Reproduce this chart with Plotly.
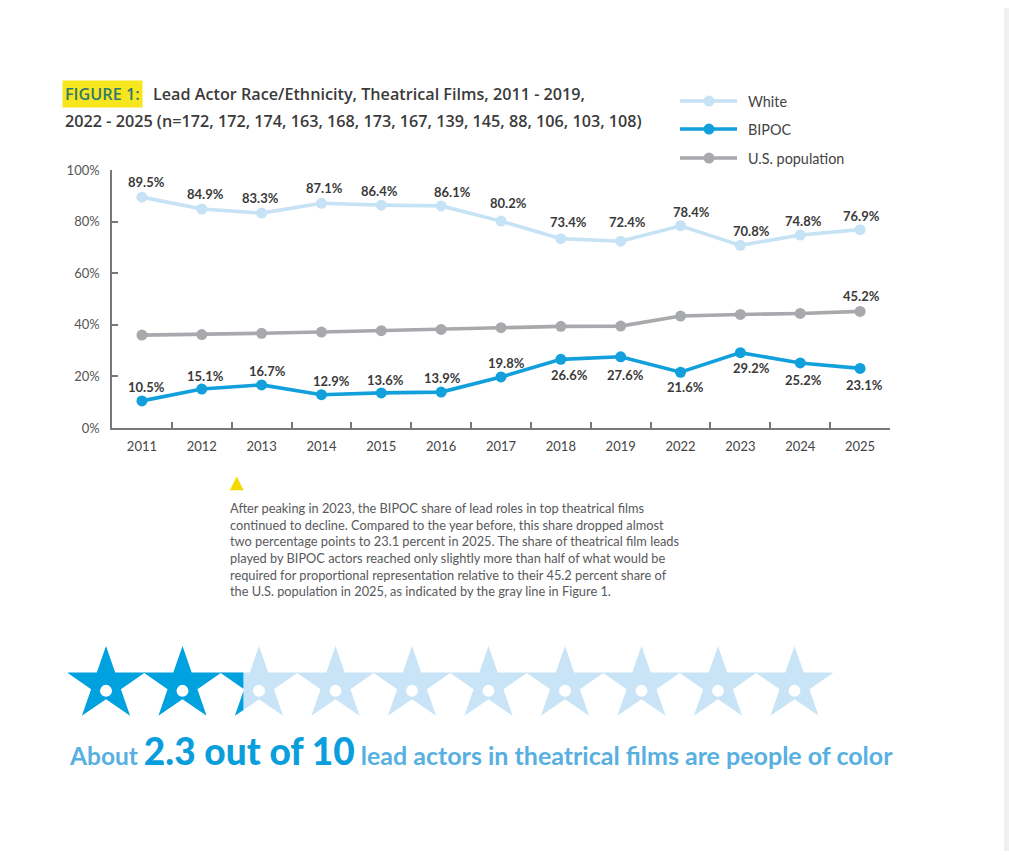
import math
import plotly.graph_objects as go

# ---------------- data ----------------
years = ["2011", "2012", "2013", "2014", "2015", "2016", "2017",
         "2018", "2019", "2022", "2023", "2024", "2025"]
white = [89.5, 84.9, 83.3, 87.1, 86.4, 86.1, 80.2, 73.4, 72.4, 78.4, 70.8, 74.8, 76.9]
bipoc = [10.5, 15.1, 16.7, 12.9, 13.6, 13.9, 19.8, 26.6, 27.6, 21.6, 29.2, 25.2, 23.1]
us_population = [36.0, 36.2, 36.7, 37.2, 37.7, 38.2, 38.9, 39.4, 39.5, 43.4, 44.0, 44.4, 45.2]
n_films = [172, 172, 174, 163, 168, 173, 167, 139, 145, 88, 106, 103, 108]
y_tick_values = [0, 20, 40, 60, 80, 100]
y_tick_labels = ["0%", "20%", "40%", "60%", "80%", "100%"]
stars_total = 10
stars_bipoc = 2.3

# ---------------- styles ----------------
W, H = 1009, 859
C_WHITE = "#c6e2f5"
C_BIPOC = "#12a0dc"
C_US = "#a7a9ac"
C_AXIS = "#77787b"
C_LABEL = "#3a3a3a"
C_TEXT = "#58595b"
C_STAR_DARK = "#00a1df"
C_STAR_LIGHT = "#c8e4f6"
FONT = "Lato, 'Open Sans', sans-serif"
TFONT = "'Open Sans', Lato, sans-serif"

# label offsets (px) relative to each point: (dx, dy_up)
white_shift = [(5, 15), (4, 15), (-1, 15), (3, 15), (-2, 14), (11, 14), (7, 18),
               (8, 17), (7, 19), (11, 14), (11, 14), (3, 14), (1, 14)]
bipoc_shift = [(5, 14), (4, 13), (6, 14), (10, 14), (4, 13), (1, 14), (5, 14),
               (9, -16), (5, -18), (5, -15), (11, -15), (3, -17), (4, -17)]

# vertical placement helper (target pixel rows -> paper coords)
VS, VOFF = 0.9817, 7.9


def px(x):
    return x / W


def py(y):
    return 1 - ((y - VOFF) / VS) / H


fig = go.Figure()

series = [
    ("U.S. population", us_population, C_US),
    ("White", white, C_WHITE),
    ("BIPOC", bipoc, C_BIPOC),
]
for name, vals, col in series:
    fig.add_trace(go.Scatter(
        x=years, y=vals, name=name, mode="lines+markers",
        line=dict(color=col, width=3.6),
        marker=dict(color=col, size=11),
        cliponaxis=False, showlegend=False, hoverinfo="skip",
    ))

LBL_FONT = dict(family=FONT, size=13, color=C_LABEL, weight=700)
annotations = []
for i, yr in enumerate(years):
    dx, dy = white_shift[i]
    annotations.append(dict(x=i, y=white[i], xref="x", yref="y", text=f"{white[i]:.1f}%",
                            showarrow=False, xshift=dx, yshift=dy, font=LBL_FONT))
    dx, dy = bipoc_shift[i]
    annotations.append(dict(x=i, y=bipoc[i], xref="x", yref="y", text=f"{bipoc[i]:.1f}%",
                            showarrow=False, xshift=dx, yshift=dy, font=LBL_FONT))
annotations.append(dict(x=len(years) - 1, y=us_population[-1], xref="x", yref="y",
                        text=f"{us_population[-1]:.1f}%", showarrow=False, xshift=1, yshift=15,
                        font=LBL_FONT))

# ---------------- title ----------------
TITLE_FONT = dict(family=TFONT, size=16.2, color="#3b3b3b", weight=600)
annotations.append(dict(x=px(62), y=py(94), xref="paper", yref="paper", xanchor="left", yanchor="middle",
                        text="FIGURE 1:", showarrow=False, bgcolor="#f7e51e", borderpad=2,
                        font=dict(family=TFONT, size=16.2, color="#2f7a70", weight=600)))
annotations.append(dict(x=px(151), y=py(94), xref="paper", yref="paper", xanchor="left", yanchor="middle",
                        text="Lead Actor Race/Ethnicity, Theatrical Films, 2011 - 2019,", showarrow=False,
                        font=TITLE_FONT))
annotations.append(dict(x=px(63), y=py(121), xref="paper", yref="paper", xanchor="left", yanchor="middle",
                        text="2022 - 2025 (n=" + ", ".join(str(n) for n in n_films) + ")", showarrow=False,
                        font=TITLE_FONT))

# ---------------- manual legend ----------------
shapes = []
legend_rows = [("White", C_WHITE, 101), ("BIPOC", C_BIPOC, 129), ("U.S. population", C_US, 158)]
for name, col, yy in legend_rows:
    shapes.append(dict(type="line", xref="paper", yref="paper", x0=px(680), x1=px(737), y0=py(yy), y1=py(yy),
                       line=dict(color=col, width=3.6)))
    shapes.append(dict(type="circle", xref="paper", yref="paper", xsizemode="pixel", ysizemode="pixel",
                       xanchor=px(709), yanchor=py(yy), x0=-5.5, x1=5.5, y0=-5.5, y1=5.5,
                       fillcolor=col, line=dict(width=0)))
    annotations.append(dict(x=px(746), y=py(yy), xref="paper", yref="paper", xanchor="left", yanchor="middle",
                            text=name, showarrow=False,
                            font=dict(family=FONT, size=14.4, color="#444444")))

# right-edge page strip
shapes.append(dict(type="rect", xref="paper", yref="paper", x0=px(1004), x1=1, y0=0, y1=1,
                   fillcolor="#f0f0f0", line=dict(width=0), layer="below"))

# ---------------- commentary ----------------
annotations.append(dict(x=px(237), y=py(482), xref="paper", yref="paper", xanchor="center", yanchor="middle",
                        text="▲", showarrow=False, font=dict(family="DejaVu Sans", size=18, color="#f5d800")))
para = ("After peaking in 2023, the BIPOC share of lead roles in top theatrical films<br>"
        "continued to decline. Compared to the year before, this share dropped almost<br>"
        "two percentage points to 23.1 percent in 2025. The share of theatrical film leads<br>"
        "played by BIPOC actors reached only slightly more than half of what would be<br>"
        "required for proportional representation relative to their 45.2 percent share of<br>"
        "the U.S. population in 2025, as indicated by the gray line in Figure 1.")
annotations.append(dict(x=px(228), y=py(498), xref="paper", yref="paper", xanchor="left", yanchor="top",
                        text=para, showarrow=False, align="left",
                        font=dict(family=FONT, size=12.8, color=C_TEXT)))

# ---------------- star row ----------------
STAR_PITCH = 76.5  # px per star (x units = stars)
star_left_px = 67.75
star_bottom_px = 725   # y2 units = pixels above this row
star_top_px = 640
sx = 39.0 / math.sin(math.radians(72)) / STAR_PITCH
sy = 70.0 / (1 + math.cos(math.radians(36)))
top_unit = star_bottom_px - 646
cy = top_unit - sy
hole_y = star_bottom_px - 691
r_in = math.sin(math.radians(18)) / math.sin(math.radians(54))


def star_poly(cx):
    pts = []
    for k in range(10):
        ang = math.radians(90 + 36 * k)
        r = 1.0 if k % 2 == 0 else r_in
        pts.append((cx + sx * r * math.cos(ang), cy + sy * r * math.sin(ang)))
    return pts


def clip_left(poly, xc):
    out = []
    n = len(poly)
    for i in range(n):
        a = poly[i]
        b = poly[(i + 1) % n]
        ain, bin_ = a[0] <= xc, b[0] <= xc
        if ain:
            out.append(a)
        if ain != bin_:
            t = (xc - a[0]) / (b[0] - a[0])
            out.append((xc, a[1] + t * (b[1] - a[1])))
    return out


def add_poly(poly, col):
    xs = [p[0] for p in poly] + [poly[0][0]]
    ys = [p[1] for p in poly] + [poly[0][1]]
    fig.add_trace(go.Scatter(x=xs, y=ys, xaxis="x2", yaxis="y2", mode="lines", fill="toself",
                             fillcolor=col, line=dict(width=0, color=col), showlegend=False,
                             hoverinfo="skip"))


half_w = sx * math.sin(math.radians(72))
for i in range(stars_total):
    cx = i + 0.5
    poly = star_poly(cx)
    if i + 1 <= math.floor(stars_bipoc):
        add_poly(poly, C_STAR_DARK)
    else:
        add_poly(poly, C_STAR_LIGHT)
        frac = stars_bipoc - i
        if 0 < frac < 1:
            xc = cx - half_w + frac * 2 * half_w
            add_poly(clip_left(poly, xc), C_STAR_DARK)

fig.add_trace(go.Scatter(x=[i + 0.5 for i in range(stars_total)], y=[hole_y] * stars_total,
                         xaxis="x2", yaxis="y2", mode="markers",
                         marker=dict(color="white", size=12, line=dict(width=0)),
                         showlegend=False, hoverinfo="skip"))

annotations.append(dict(
    x=px(67), y=py(751), xref="paper", yref="paper", xanchor="left", yanchor="middle", showarrow=False,
    text=("<span style='font-size:24.5px;color:#58afe1'>About </span>"
          f"<span style='font-size:37px;color:#0a9fdc;font-weight:900'>{stars_bipoc} out of {stars_total}</span>"
          "<span style='font-size:25px;color:#58afe1'> lead actors in theatrical films are people of color</span>"),
    font=dict(family=FONT, size=24.5, color="#58afe1", weight=700)))

fig.update_layout(
    width=W, height=H, autosize=False,
    margin=dict(l=0, r=0, t=0, b=0),
    paper_bgcolor="white", plot_bgcolor="rgba(0,0,0,0)",
    showlegend=False,
    xaxis=dict(domain=[px(112), px(890)], type="category", categoryorder="array", categoryarray=years,
               range=[-0.5, len(years) - 0.5], showline=True, linecolor=C_AXIS, linewidth=1.5,
               ticks="inside", ticklen=6, tickwidth=1.5, tickcolor=C_AXIS, tickson="boundaries",
               showgrid=False, zeroline=False, ticklabelstandoff=6,
               tickfont=dict(family=FONT, size=13, color="#444444"), anchor="y"),
    yaxis=dict(domain=[py(428), py(170)], range=[0, 100], tickvals=y_tick_values, ticktext=y_tick_labels,
               showline=True, linecolor=C_AXIS, linewidth=1.5, ticks="inside", ticklen=6, tickwidth=1.5,
               tickcolor=C_AXIS, showgrid=False, zeroline=False, ticklabelstandoff=8,
               tickfont=dict(family=FONT, size=13, color="#555555"), anchor="x"),
    xaxis2=dict(domain=[px(star_left_px), px(star_left_px + stars_total * STAR_PITCH)],
                range=[0, stars_total], visible=False, anchor="y2", fixedrange=True),
    yaxis2=dict(domain=[py(star_bottom_px), py(star_top_px)],
                range=[0, star_bottom_px - star_top_px], visible=False, anchor="x2",
                fixedrange=True),
    annotations=annotations,
    shapes=shapes,
)

fig.write_html("out.html")
